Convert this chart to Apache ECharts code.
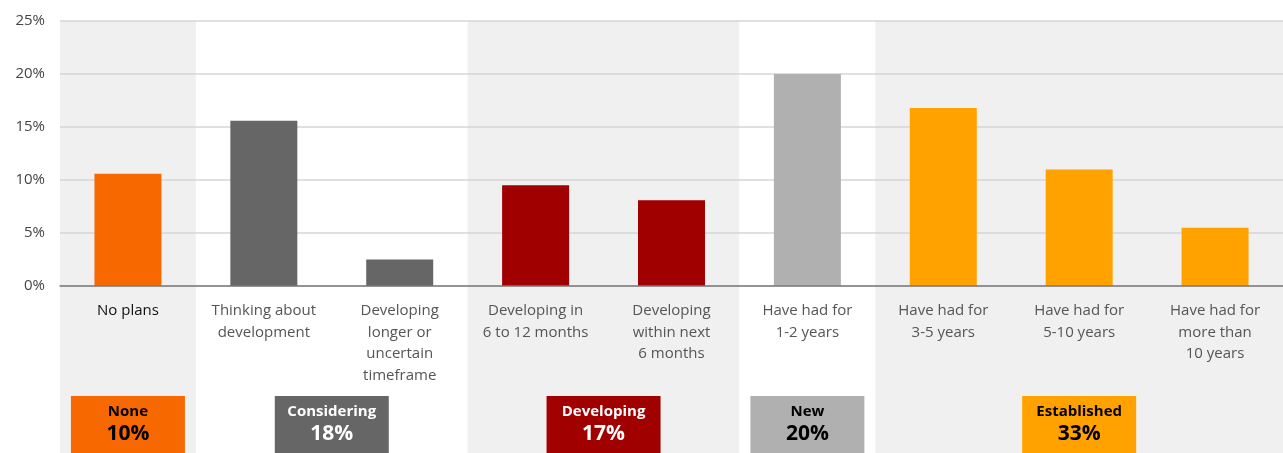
<!DOCTYPE html>
<html>
<head>
<meta charset="utf-8">
<script src="https://cdn.jsdelivr.net/npm/echarts@6/dist/echarts.min.js"></script>
<style>html,body{margin:0;padding:0;background:#fff;}#c{width:1283px;height:453px;}</style>
</head>
<body>
<div id="c"></div>
<script>
const categories = [
  'No plans',
  'Thinking about\ndevelopment',
  'Developing\nlonger or\nuncertain\ntimeframe',
  'Developing in\n6 to 12 months',
  'Developing\nwithin next\n6 months',
  'Have had for\n1-2 years',
  'Have had for\n3-5 years',
  'Have had for\n5-10 years',
  'Have had for\nmore than\n10 years'
];
const values = [10.6, 15.6, 2.5, 9.5, 8.1, 20.0, 16.8, 11.0, 5.5];
const barColors = ['#f76800', '#666666', '#666666', '#a10000', '#a10000', '#b0b0b0', '#ffa200', '#ffa200', '#ffa200'];
const yTicks = [0, 5, 10, 15, 20, 25];

// groups: first category index, last category index
const groupStart = [0, 1, 3, 5, 6];
const groupEnd = [0, 2, 4, 5, 8];
const groupNames = ['None', 'Considering', 'Developing', 'New', 'Established'];
const groupPct = ['10%', '18%', '17%', '20%', '33%'];
const groupColors = ['#f76800', '#666666', '#a10000', '#b0b0b0', '#ffa200'];
const groupTextColors = ['#000000', '#ffffff', '#ffffff', '#000000', '#000000'];
const bandFills = ['#f0f0f0', '#ffffff', '#f0f0f0', '#ffffff', '#f0f0f0'];

const FONT = '"Open Sans", "Noto Sans", sans-serif';

const chart = echarts.init(document.getElementById('c'), null, {renderer: 'canvas'});

function groupSpan(api, i) {
  const w = api.size([1, 0])[0];
  const a = api.coord([groupStart[i], 0])[0] - w / 2;
  const b = api.coord([groupEnd[i], 0])[0] + w / 2;
  return [a, b];
}

chart.setOption({
  animation: false,
  backgroundColor: '#ffffff',
  grid: {left: 60, right: 0, top: 21, bottom: 167, containLabel: false},
  xAxis: {
    type: 'category',
    data: categories,
    axisTick: {show: false},
    axisLine: {lineStyle: {color: '#7a7a7a', width: 1.5}},
    axisLabel: {
      interval: 0,
      margin: 14,
      fontFamily: FONT,
      fontSize: 15,
      lineHeight: 21.5,
      color: function (v, i) { return i === 0 ? '#111111' : '#555555'; }
    },
    z: 3
  },
  yAxis: {
    type: 'value',
    min: yTicks[0],
    max: yTicks[yTicks.length - 1],
    interval: 5,
    axisLine: {show: false},
    axisTick: {show: false},
    axisLabel: {formatter: '{value}%', fontFamily: FONT, fontSize: 15, color: '#444444', margin: 15},
    splitLine: {lineStyle: {color: '#d6d6d6', width: 1.5}},
    z: 1
  },
  series: [
    {
      type: 'custom',
      z: -1,
      silent: true,
      clip: false,
      data: groupStart.map((s, i) => [s, i]),
      renderItem: function (params, api) {
        const i = params.dataIndex;
        const span = groupSpan(api, i);
        const top = params.coordSys.y;
        return {
          type: 'rect',
          shape: {x: span[0], y: top, width: span[1] - span[0], height: api.getHeight() - top},
          style: {fill: bandFills[i]}
        };
      }
    },
    {
      type: 'bar',
      data: values.map((v, i) => ({value: v, itemStyle: {color: barColors[i]}})),
      barWidth: 67,
      z: 2
    },
    {
      type: 'custom',
      z: 4,
      silent: true,
      clip: false,
      data: groupStart.map((s, i) => [s, i]),
      renderItem: function (params, api) {
        const i = params.dataIndex;
        const span = groupSpan(api, i);
        const cx = (span[0] + span[1]) / 2;
        const bw = 114, y0 = 396, bh = 57;
        return {
          type: 'group',
          children: [
            {type: 'rect', shape: {x: cx - bw / 2, y: y0, width: bw, height: bh}, style: {fill: groupColors[i]}},
            {type: 'text', x: cx, y: y0 + 16, style: {text: groupNames[i], fill: groupTextColors[i], font: 'bold 15px ' + FONT, align: 'center', verticalAlign: 'middle'}},
            {type: 'text', x: cx, y: y0 + 38, style: {text: groupPct[i], fill: groupTextColors[i], font: 'bold 21px ' + FONT, align: 'center', verticalAlign: 'middle'}}
          ]
        };
      }
    }
  ]
});
</script>
</body>
</html>
